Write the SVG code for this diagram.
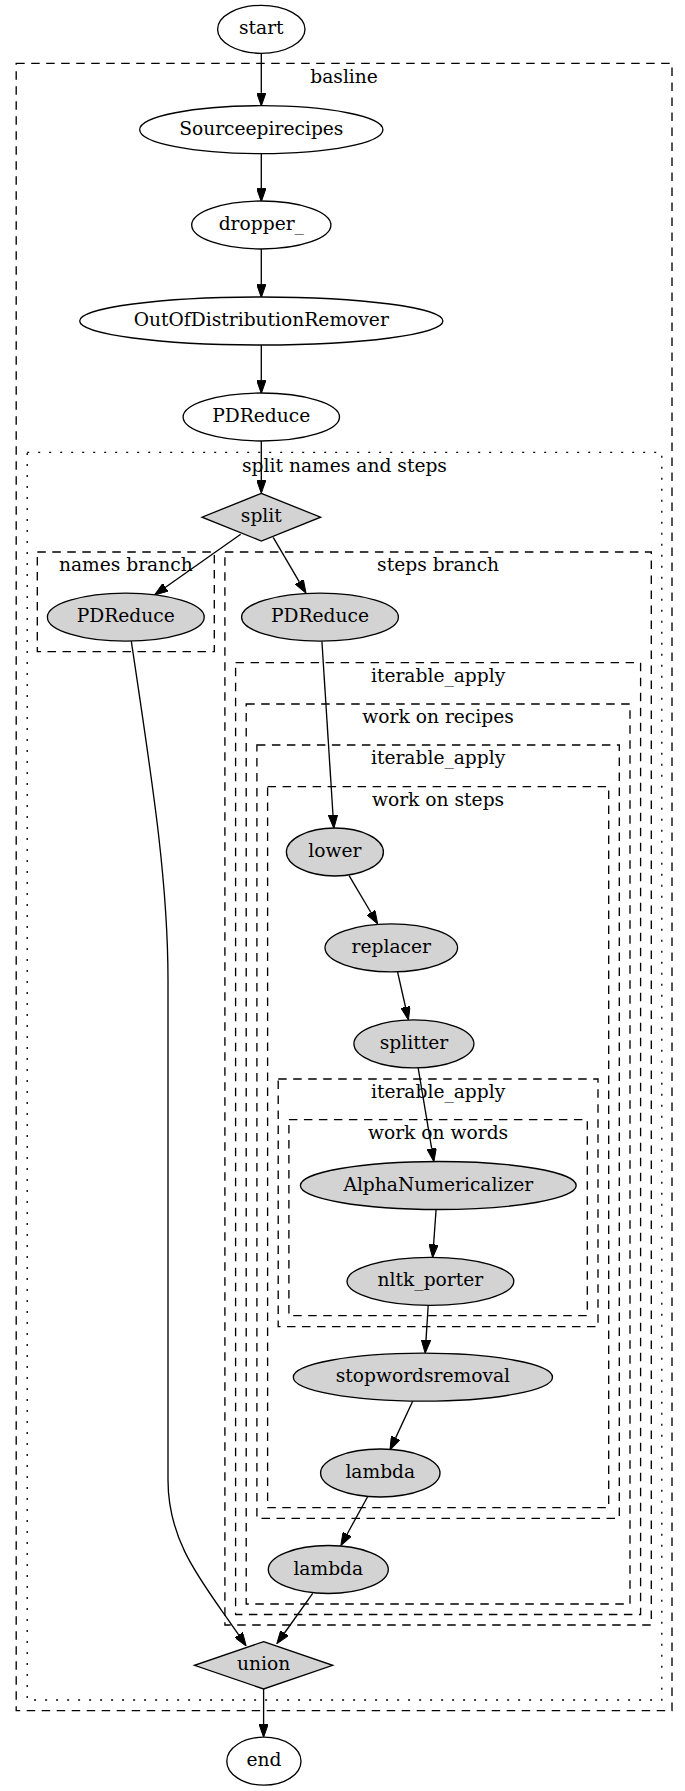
<svg xmlns="http://www.w3.org/2000/svg" width="685" height="1791" viewBox="0 0 685 1791">
<style>
text{font-family:"DejaVu Serif","Liberation Serif",serif;font-size:18.67px;fill:#000;text-anchor:middle}
.cl{fill:none;stroke:#000;stroke-width:1.33;stroke-dasharray:8.5,6.5}
.dot{fill:none;stroke:#000;stroke-width:1.33;stroke-dasharray:2,9}
.n{fill:#fff;stroke:#000;stroke-width:1.33}
.g{fill:#d3d3d3;stroke:#000;stroke-width:1.33}
.e{fill:none;stroke:#000;stroke-width:1.33;marker-end:url(#ah)}
</style>
<defs>
<marker id="ah" viewBox="0 0 13.33 9.33" refX="0" refY="4.67" markerWidth="13.33" markerHeight="9.33" markerUnits="userSpaceOnUse" orient="auto">
<path d="M0,0 L13.33,4.67 L0,9.33 z" fill="#000" stroke="#000" stroke-width="1"/>
</marker>
</defs>
<rect width="685" height="1791" fill="#fff"/>
<g id="clusters">
<g id="cluster_basline"><rect class="cl" x="16.2" y="63.3" width="655.8" height="1647.4"/><text x="344.1" y="82.7">basline</text></g>
<g id="cluster_split"><rect class="dot" x="27.2" y="452.3" width="634.6" height="1247.7"/><text x="344.5" y="471.7">split names and steps</text></g>
<g id="cluster_names"><rect class="cl" x="37.3" y="552" width="177" height="99.7"/><text x="125.8" y="571.3">names branch</text></g>
<g id="cluster_steps"><rect class="cl" x="224.9" y="552" width="426.4" height="1073"/><text x="438.1" y="571.3">steps branch</text></g>
<g id="cluster_iter1"><rect class="cl" x="235.6" y="662.7" width="405" height="951.8"/><text x="438.1" y="682">iterable_apply</text></g>
<g id="cluster_recipes"><rect class="cl" x="246.2" y="704" width="383.8" height="900"/><text x="438.1" y="723.3">work on recipes</text></g>
<g id="cluster_iter2"><rect class="cl" x="256.9" y="745" width="362.4" height="773.3"/><text x="438.1" y="764.3">iterable_apply</text></g>
<g id="cluster_steps2"><rect class="cl" x="267.6" y="786.7" width="341.1" height="721"/><text x="438.1" y="806">work on steps</text></g>
<g id="cluster_iter3"><rect class="cl" x="278.2" y="1079" width="319.8" height="247.7"/><text x="438.1" y="1098.3">iterable_apply</text></g>
<g id="cluster_words"><rect class="cl" x="288.9" y="1119.7" width="298.4" height="196"/><text x="438.1" y="1139">work on words</text></g>
</g>
<g id="edges">
<path class="e" d="M261.3,53.3 L261.3,92.7"/>
<path class="e" d="M261.3,153.7 L261.3,188.4"/>
<path class="e" d="M261.3,249 L261.3,284.2"/>
<path class="e" d="M261.3,345 L261.3,380.2"/>
<path class="e" d="M261.3,441 L261.3,480"/>
<path class="e" d="M240.7,534.3 L165.5,587.3"/>
<path class="e" d="M273.2,537.3 L299.3,581.8"/>
<path class="e" d="M321.9,641.2 L333,815"/>
<path class="e" d="M349.1,875.7 L370.9,912.5"/>
<path class="e" d="M397.5,971.7 L405.5,1007"/>
<path class="e" d="M418.1,1067.7 L431.7,1148.6"/>
<path class="e" d="M436.1,1209.3 L433.6,1244.4"/>
<path class="e" d="M428.2,1305.3 L426,1340"/>
<path class="e" d="M412.8,1401 L395.6,1437.9"/>
<path class="e" d="M367.6,1496.7 L347.2,1534"/>
<path class="e" d="M312.7,1593.3 L284.5,1633"/>
<path class="e" d="M131.3,641.2 C152,780 168,880 168,980 L168,1480 C168,1545 205,1585 238.7,1634.9"/>
<path class="e" d="M263.6,1689 L263.6,1724"/>
</g>
<g id="node_start"><ellipse class="n" cx="261.3" cy="29.3" rx="43.7" ry="24"/><text x="261.3" y="34.3">start</text></g>
<g id="node_source"><ellipse class="n" cx="261.3" cy="129.7" rx="121.6" ry="24"/><text x="261.3" y="134.7">Sourceepirecipes</text></g>
<g id="node_dropper"><ellipse class="n" cx="261.3" cy="225" rx="69.6" ry="24"/><text x="261.3" y="230">dropper_</text></g>
<g id="node_ood"><ellipse class="n" cx="261.3" cy="321" rx="181.6" ry="24"/><text x="261.3" y="326">OutOfDistributionRemover</text></g>
<g id="node_pdreduce"><ellipse class="n" cx="261.3" cy="417" rx="78.2" ry="24"/><text x="261.3" y="422">PDReduce</text></g>
<g id="node_split"><polygon class="g" points="261.3,493.4 320.6,517.2 261.3,541 202,517.2"/><text x="261.3" y="522.2">split</text></g>
<g id="node_names_pdreduce"><ellipse class="g" cx="125.8" cy="617.2" rx="78.4" ry="24"/><text x="125.8" y="622.2">PDReduce</text></g>
<g id="node_steps_pdreduce"><ellipse class="g" cx="320" cy="617.2" rx="78.4" ry="24"/><text x="320" y="622.2">PDReduce</text></g>
<g id="node_lower"><ellipse class="g" cx="334.9" cy="852" rx="48.5" ry="24"/><text x="334.9" y="857">lower</text></g>
<g id="node_replacer"><ellipse class="g" cx="391.3" cy="947.8" rx="66.3" ry="24"/><text x="391.3" y="952.8">replacer</text></g>
<g id="node_splitter"><ellipse class="g" cx="413.9" cy="1043.8" rx="60" ry="24"/><text x="413.9" y="1048.8">splitter</text></g>
<g id="node_alphanum"><ellipse class="g" cx="438.3" cy="1185.5" rx="137.9" ry="24"/><text x="438.3" y="1190.5">AlphaNumericalizer</text></g>
<g id="node_nltk"><ellipse class="g" cx="430.4" cy="1281.3" rx="83.4" ry="24"/><text x="430.4" y="1286.3">nltk_porter</text></g>
<g id="node_stopwords"><ellipse class="g" cx="422.9" cy="1377.2" rx="129.6" ry="24"/><text x="422.9" y="1382.2">stopwordsremoval</text></g>
<g id="node_lambda1"><ellipse class="g" cx="380.3" cy="1473" rx="59.7" ry="24"/><text x="380.3" y="1478">lambda</text></g>
<g id="node_lambda2"><ellipse class="g" cx="328.3" cy="1569.5" rx="60" ry="24"/><text x="328.3" y="1574.5">lambda</text></g>
<g id="node_union"><polygon class="g" points="263.6,1641.6 332.7,1665.3 263.6,1689 194.5,1665.3"/><text x="263.6" y="1670.3">union</text></g>
<g id="node_end"><ellipse class="n" cx="263.9" cy="1761.2" rx="37.1" ry="24"/><text x="263.9" y="1766.2">end</text></g>
</svg>
